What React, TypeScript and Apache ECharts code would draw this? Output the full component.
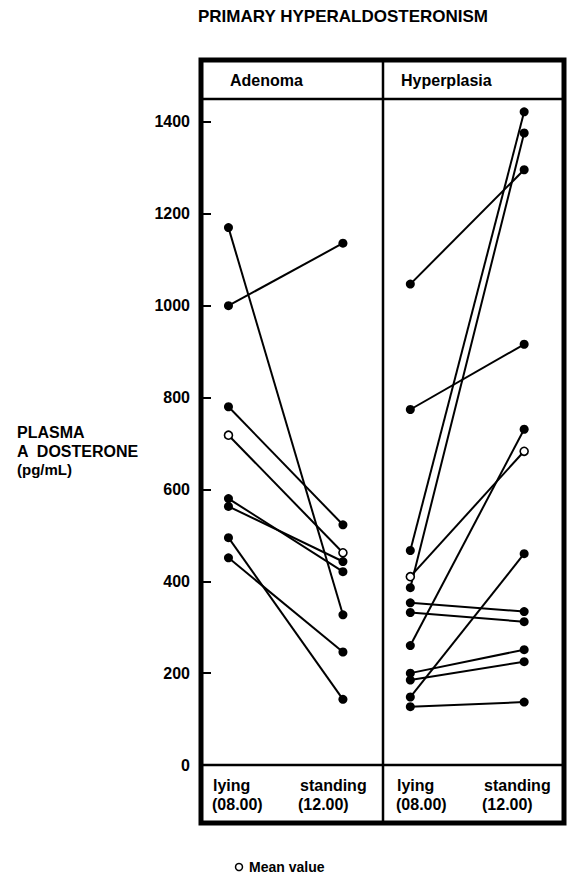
import React, { useEffect, useRef } from 'react';
import * as echarts from 'echarts';

// ---- data (pg/mL) ----
const tickValues = [0, 200, 400, 600, 800, 1000, 1200, 1400];
const positions = ['lying (08.00)', 'standing (12.00)'];

const adenomaLying = [1170, 1000, 780, 580, 563, 495, 451];
const adenomaStanding = [327, 1136, 523, 421, 443, 143, 246];
const adenomaMean = [718, 462];

const hyperLying = [1047, 774, 467, 386, 353, 332, 260, 200, 185, 148, 127];
const hyperStanding = [1296, 916, 1422, 1376, 334, 312, 731, 251, 225, 460, 137];
const hyperMean = [410, 683];

const FONT = '"Liberation Sans", Arial, Helvetica, sans-serif';

function patientSeries(lying: number[], standing: number[], axis: number) {
  return lying.map((l, i) => ({
    type: 'line',
    xAxisIndex: axis,
    yAxisIndex: axis,
    data: [[0, l], [1, standing[i]]],
    symbol: 'circle',
    symbolSize: 9,
    lineStyle: { color: '#000', width: 2 },
    itemStyle: { color: '#000' },
    silent: true,
    z: 2,
  }));
}

function meanSeries(mean: number[], axis: number) {
  return {
    type: 'line',
    xAxisIndex: axis,
    yAxisIndex: axis,
    data: [[0, mean[0]], [1, mean[1]]],
    symbol: 'circle',
    symbolSize: 8,
    lineStyle: { color: '#000', width: 2 },
    itemStyle: { color: '#fff', borderColor: '#000', borderWidth: 1.6 },
    silent: true,
    z: 3,
  };
}

function txt(text: string, x: number, y: number, size: number, align = 'left') {
  return {
    type: 'text',
    silent: true,
    style: {
      text,
      x,
      y,
      fill: '#000',
      font: `bold ${size}px ${FONT}`,
      align,
      verticalAlign: 'middle',
      textAlign: align,
      textVerticalAlign: 'middle',
    },
    z: 10,
  };
}

export default function App() {
  const ref = useRef<HTMLDivElement>(null);

  useEffect(() => {
    if (!ref.current) return;
    const chart = echarts.init(ref.current, null, { renderer: 'svg' });

    const xAxisBase = {
      type: 'value',
      min: -0.24,
      max: 1.35,
      show: false,
    };

    const option: any = {
      animation: false,
      backgroundColor: '#fff',
      grid: [
        { left: 201, top: 99, width: 182, height: 666 },
        { left: 383, top: 99, width: 181, height: 666 },
      ],
      xAxis: [
        { ...xAxisBase, gridIndex: 0 },
        { ...xAxisBase, gridIndex: 1 },
      ],
      yAxis: [
        {
          gridIndex: 0,
          type: 'value',
          position: 'left',
          min: 0,
          max: 1450,
          interval: 200,
          axisLine: { show: false, onZero: false },
          splitLine: { show: false },
          axisTick: {
            show: true,
            inside: true,
            length: 10,
            lineStyle: { color: '#000', width: 2 },
            customValues: tickValues,
          },
          axisLabel: {
            customValues: tickValues,
            color: '#000',
            fontSize: 16,
            fontWeight: 'bold',
            fontFamily: FONT,
            margin: 11,
            formatter: (v: number) => (tickValues.includes(v) ? String(v) : ''),
          },
        },
        {
          gridIndex: 1,
          type: 'value',
          min: 0,
          max: 1450,
          interval: 200,
          axisLine: { show: false, onZero: false },
          axisTick: { show: false },
          axisLabel: { show: false },
          splitLine: { show: false },
        },
      ],
      series: [
        ...patientSeries(adenomaLying, adenomaStanding, 0),
        meanSeries(adenomaMean, 0),
        ...patientSeries(hyperLying, hyperStanding, 1),
        meanSeries(hyperMean, 1),
      ],
      graphic: {
        elements: [
          {
            type: 'rect',
            silent: true,
            shape: { x: 201, y: 60, width: 363, height: 763 },
            style: { fill: 'none', stroke: '#000', lineWidth: 5 },
            z: 10,
          },
          {
            type: 'line',
            silent: true,
            shape: { x1: 201, y1: 99, x2: 564, y2: 99 },
            style: { stroke: '#000', lineWidth: 2.5 },
            z: 10,
          },
          {
            type: 'line',
            silent: true,
            shape: { x1: 201, y1: 765, x2: 564, y2: 765 },
            style: { stroke: '#000', lineWidth: 2.5 },
            z: 10,
          },
          {
            type: 'line',
            silent: true,
            shape: { x1: 383, y1: 60, x2: 383, y2: 823 },
            style: { stroke: '#000', lineWidth: 2.5 },
            z: 10,
          },
          txt('PRIMARY HYPERALDOSTERONISM', 198, 16, 17),
          txt('Adenoma', 230, 80, 16),
          txt('Hyperplasia', 401, 80, 16),
          txt(positions[0].split(' ')[0], 213, 785, 16),
          txt(positions[0].split(' ')[1], 212, 804, 16),
          txt(positions[1].split(' ')[0], 300, 785, 16),
          txt(positions[1].split(' ')[1], 298, 804, 16),
          txt(positions[0].split(' ')[0], 397, 785, 16),
          txt(positions[0].split(' ')[1], 396, 804, 16),
          txt(positions[1].split(' ')[0], 484, 785, 16),
          txt(positions[1].split(' ')[1], 482, 804, 16),
          txt('PLASMA', 17, 432, 16),
          txt('A  DOSTERONE', 17, 451, 16),
          txt('(pg/mL)', 17, 469, 15),
          {
            type: 'circle',
            silent: true,
            shape: { cx: 239, cy: 867, r: 3.5 },
            style: { fill: '#fff', stroke: '#000', lineWidth: 1.5 },
            z: 10,
          },
          txt('Mean value', 249, 867, 14),
        ],
      },
    };

    chart.setOption(option);
    return () => chart.dispose();
  }, []);

  return (
    <div
      ref={ref}
      style={{ position: 'absolute', left: 0, top: 0, width: 569, height: 877 }}
    />
  );
}
